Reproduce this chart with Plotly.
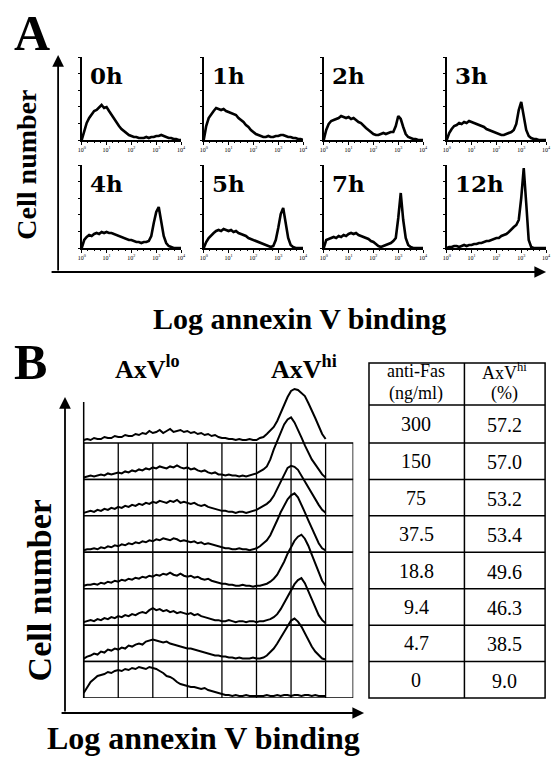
import plotly.graph_objects as go

W, H = 556, 758
FONT = "Liberation Serif"

# ---------------- Panel A data (log annexin V, decades; cell counts) ----------------
A_LABELS = ["0h", "1h", "2h", "3h", "4h", "5h", "7h", "12h"]
A_TICKS = [0, 1, 2, 3, 4]
A_TICKTEXT = ["10<sup>0</sup>", "10<sup>1</sup>", "10<sup>2</sup>", "10<sup>3</sup>", "10<sup>4</sup>"]
A_BINS = [0.0, 0.1, 0.2, 0.3, 0.4, 0.5, 0.6, 0.7, 0.8, 0.9,
          1.0, 1.1, 1.2, 1.3, 1.4, 1.5, 1.6, 1.7, 1.8, 1.9,
          2.0, 2.1, 2.2, 2.3, 2.4, 2.5, 2.6, 2.7, 2.8, 2.9,
          3.0, 3.1, 3.2, 3.3, 3.4, 3.5, 3.6, 3.7, 3.8, 3.9,
          4.0]
A_0H = [0, 10, 17, 22, 25, 29, 30, 33, 35, 32, 33, 29, 25, 22, 17, 14, 11, 9, 7, 5,
        4, 3, 3, 2, 2, 2, 3, 2, 3, 3, 4, 4, 5, 4, 3, 2, 2, 1, 1, 0, 0]
A_1H = [0, 14, 22, 26, 29, 32, 31, 30, 31, 29, 28, 27, 26, 25, 22, 20, 18, 15, 13, 10,
        8, 6, 5, 4, 3, 3, 4, 3, 3, 4, 4, 5, 5, 4, 3, 3, 2, 2, 1, 1, 0]
A_2H = [0, 10, 16, 19, 20, 21, 22, 24, 23, 22, 23, 21, 22, 20, 18, 17, 14, 12, 10, 8,
        6, 5, 5, 6, 7, 6, 7, 8, 8, 14, 24, 21, 13, 6, 3, 2, 1, 1, 0, 0, 0]
A_3H = [0, 7, 11, 14, 15, 17, 16, 18, 17, 19, 18, 17, 16, 15, 14, 13, 11, 10, 9, 8,
        7, 6, 5, 5, 6, 7, 8, 10, 16, 30, 38, 24, 10, 4, 2, 1, 1, 0, 0, 0, 0]
A_4H = [0, 8, 11, 13, 12, 14, 15, 14, 16, 15, 16, 15, 15, 14, 13, 12, 11, 10, 9, 8,
        8, 7, 6, 6, 5, 6, 6, 7, 12, 25, 36, 41, 26, 12, 5, 2, 1, 0, 0, 0, 0]
A_5H = [0, 6, 10, 13, 15, 17, 18, 17, 19, 18, 17, 18, 16, 17, 15, 14, 13, 12, 10, 9,
        8, 7, 6, 5, 4, 3, 2, 1, 2, 8, 20, 34, 40, 24, 10, 3, 1, 0, 0, 0, 0]
A_7H = [0, 8, 9, 10, 11, 10, 12, 11, 13, 12, 14, 15, 14, 15, 13, 12, 11, 10, 9, 7,
        6, 4, 2, 1, 2, 3, 4, 5, 7, 10, 30, 55, 28, 10, 3, 1, 0, 0, 0, 0, 0]
A_12H = [0, 1, 1, 2, 2, 1, 2, 3, 2, 3, 3, 4, 4, 5, 5, 6, 7, 7, 8, 9,
         10, 10, 12, 13, 14, 16, 19, 21, 23, 28, 50, 80, 45, 8, 1, 0, 0, 0, 0, 0, 0]
A_CURVES = [A_0H, A_1H, A_2H, A_3H, A_4H, A_5H, A_7H, A_12H]

# ---------------- Panel B data ----------------
B_CONC = ["300", "150", "75", "37.5", "18.8", "9.4", "4.7", "0"]
B_AXV_HI = ["57.2", "57.0", "53.2", "53.4", "49.6", "46.3", "38.5", "9.0"]
B_HEAD_CONC = ["anti-Fas", "(ng/ml)"]
B_HEAD_AXV = ["AxV<sup>hi</sup>", "(%)"]
B_BINS = [0.00, 0.05, 0.10, 0.15, 0.20, 0.25, 0.30, 0.35, 0.40, 0.45, 0.50,
          0.55, 0.60, 0.65, 0.70, 0.75, 0.80, 0.85, 0.90, 0.95, 1.00,
          1.05, 1.10, 1.15, 1.20, 1.25, 1.30, 1.35, 1.40, 1.45, 1.50,
          1.55, 1.60, 1.65, 1.70, 1.75, 1.80, 1.85, 1.90, 1.95, 2.00,
          2.05, 2.10, 2.15, 2.20, 2.25, 2.30, 2.35, 2.40, 2.45, 2.50,
          2.55, 2.60, 2.65, 2.70, 2.75, 2.80, 2.85, 2.90, 2.95, 3.00,
          3.05, 3.10, 3.15, 3.20, 3.25, 3.30, 3.35, 3.40, 3.45, 3.50]
B_300 = [3, 4, 3, 5, 4, 4, 6, 5, 5, 7, 6,
         6, 8, 7, 7, 9, 8, 10, 9, 12, 10,
         11, 13, 10, 12, 14, 11, 12, 13, 11, 12,
         10, 11, 9, 10, 8, 9, 7, 8, 6, 5,
         5, 4, 4, 3, 4, 3, 3, 4, 3, 3,
         5, 6, 9, 12, 16, 22, 30, 38, 46, 52,
         54, 53, 50, 47, 40, 33, 25, 17, 9, 4]
B_150 = [2, 3, 4, 3, 4, 5, 4, 6, 5, 6, 7,
         6, 8, 7, 9, 8, 10, 9, 11, 10, 12,
         11, 13, 12, 11, 13, 12, 14, 12, 11, 12,
         10, 11, 9, 8, 9, 7, 6, 7, 5, 5,
         4, 5, 4, 4, 3, 4, 3, 4, 5, 6,
         8, 10, 13, 20, 30, 38, 47, 55, 60, 62,
         57, 50, 42, 34, 27, 20, 15, 10, 5, 2]
B_75 = [3, 4, 5, 4, 6, 5, 7, 6, 8, 7, 9,
        8, 10, 9, 11, 10, 12, 11, 13, 12, 14,
        13, 15, 14, 13, 15, 14, 16, 13, 14, 13,
        12, 13, 11, 10, 11, 9, 8, 7, 6, 5,
        5, 4, 4, 3, 4, 4, 3, 4, 5, 6,
        8, 10, 12, 15, 20, 27, 34, 42, 48, 50,
        49, 46, 40, 34, 28, 22, 16, 11, 6, 3]
B_37_5 = [2, 3, 3, 4, 3, 5, 4, 6, 5, 7, 6,
          8, 7, 9, 8, 10, 9, 11, 10, 12, 11,
          13, 12, 14, 13, 12, 14, 13, 11, 12, 11,
          10, 11, 9, 10, 8, 9, 8, 7, 6, 5,
          4, 4, 3, 3, 4, 3, 3, 2, 3, 4,
          6, 9, 12, 17, 24, 32, 40, 47, 53, 57,
          59, 55, 48, 40, 32, 24, 16, 9, 4, 2]
B_18_8 = [3, 4, 4, 5, 4, 6, 5, 7, 6, 8, 7,
          9, 8, 10, 9, 11, 10, 12, 11, 13, 12,
          14, 13, 15, 14, 16, 14, 13, 15, 13, 12,
          13, 11, 12, 10, 9, 10, 8, 7, 6, 5,
          5, 4, 4, 3, 3, 4, 3, 3, 2, 3,
          3, 4, 5, 7, 10, 14, 20, 27, 35, 42,
          48, 52, 54, 50, 43, 34, 25, 16, 8, 3]
B_9_4 = [3, 4, 5, 4, 6, 5, 7, 6, 8, 7, 9,
         8, 10, 9, 11, 10, 12, 13, 12, 15, 17,
         15, 16, 14, 15, 13, 14, 12, 13, 12, 11,
         12, 10, 11, 9, 8, 7, 6, 5, 5, 4,
         4, 5, 4, 3, 4, 4, 3, 4, 4, 3,
         4, 4, 5, 6, 8, 11, 16, 22, 28, 35,
         41, 45, 47, 42, 34, 26, 18, 10, 5, 2]
B_4_7 = [3, 5, 6, 8, 7, 10, 9, 12, 11, 13, 12,
         14, 13, 16, 15, 17, 18, 17, 20, 21, 22,
         21, 20, 19, 20, 18, 17, 16, 15, 14, 13,
         13, 12, 11, 10, 9, 8, 7, 6, 6, 5,
         5, 4, 4, 3, 4, 3, 3, 3, 4, 3,
         3, 4, 6, 9, 13, 18, 24, 30, 36, 41,
         43, 40, 35, 28, 21, 15, 10, 6, 3, 2]
B_0 = [5, 11, 16, 19, 22, 23, 24, 26, 25, 27, 28,
       27, 29, 28, 30, 29, 31, 30, 29, 31, 30,
       29, 27, 25, 22, 21, 19, 16, 14, 13, 12,
       11, 11, 10, 9, 10, 8, 7, 6, 5, 4,
       3, 3, 2, 3, 2, 2, 3, 2, 2, 2,
       2, 2, 3, 2, 2, 3, 2, 3, 3, 2,
       3, 3, 2, 3, 3, 2, 3, 2, 2, 2]
B_CURVES = [B_300, B_150, B_75, B_37_5, B_18_8, B_9_4, B_4_7, B_0]

for c in A_CURVES:
    assert len(c) == len(A_BINS)
for c in B_CURVES:
    assert len(c) == len(B_BINS)


def px(x):
    return x / W


def py(y):
    return 1 - y / H


fig = go.Figure()
layout = {}
shapes = []
annotations = []

# ---------------- Panel A: 8 small histograms ----------------
A_COLS = [79, 203, 325, 450]
A_BASE = [140, 248]
A_PW, A_PH = 101, 83

for i, (label, counts) in enumerate(zip(A_LABELS, A_CURVES)):
    n = i + 1
    sfx = "" if n == 1 else str(n)
    col, row = i % 4, i // 4
    x0, base = A_COLS[col], A_BASE[row]
    fig.add_trace(go.Scatter(x=A_BINS, y=counts, mode="lines",
                             line=dict(color="black", width=2.6),
                             xaxis="x" + sfx, yaxis="y" + sfx,
                             showlegend=False, hoverinfo="skip"))
    layout["xaxis" + sfx] = dict(
        domain=[px(x0), px(x0 + A_PW)], range=[0, 4], anchor="y" + sfx,
        showline=True, linecolor="black", linewidth=1.6, mirror=False,
        ticks="outside", ticklen=3, tickcolor="black", tickwidth=1.2,
        tickvals=A_TICKS, ticktext=A_TICKTEXT,
        tickfont=dict(family=FONT, size=6, color="black"),
        minor=dict(ticks="outside", ticklen=1.5, dtick=0.25, tickcolor="black"),
        showgrid=False, zeroline=False, fixedrange=True)
    layout["yaxis" + sfx] = dict(
        domain=[py(base), py(base - A_PH)], range=[0, A_PH], anchor="x" + sfx,
        showline=True, linecolor="black", linewidth=1.6,
        ticks="outside", ticklen=2, tickcolor="black", tickwidth=1,
        tick0=0, dtick=16.6, showticklabels=False,
        showgrid=False, zeroline=False, fixedrange=True)
    annotations.append(dict(x=px(x0 + 6), y=py(base - A_PH + 19), xref="paper", yref="paper",
                            text="<b>" + label + "</b>", showarrow=False,
                            xanchor="left", yanchor="middle",
                            font=dict(family="DejaVu Serif", size=23, color="black")))

# ---------------- Panel B: stacked histograms ----------------
B_X0, B_X1 = 81, 355
B_TOP = 443
ROW_H = (698 - 443) / 7
B_DOM_H = 66
B_XMAX = 3.9
GRID_X = [0.5, 1.0, 1.5, 2.0, 2.5, 3.0, 3.5]

for j, counts in enumerate(B_CURVES):
    n = 9 + j
    sfx = str(n)
    base = B_TOP + j * ROW_H
    layout["xaxis" + sfx] = dict(domain=[px(B_X0), px(B_X1)], range=[0, B_XMAX],
                                 anchor="y" + sfx, visible=False, fixedrange=True)
    layout["yaxis" + sfx] = dict(domain=[py(base), py(base - B_DOM_H)], range=[0, B_DOM_H],
                                 anchor="x" + sfx, visible=False, fixedrange=True)
    if j > 0:
        shapes.append(dict(type="rect", xref="x" + sfx, yref="y" + sfx,
                           x0=0, x1=B_XMAX, y0=0, y1=ROW_H, layer="below",
                           line=dict(color="black", width=1.5)))
        for gx in GRID_X:
            shapes.append(dict(type="line", xref="x" + sfx, yref="y" + sfx,
                               x0=gx, x1=gx, y0=0, y1=ROW_H, layer="below",
                               line=dict(color="black", width=1.3)))
    fig.add_trace(go.Scatter(x=B_BINS, y=counts, mode="lines",
                             line=dict(color="black", width=2.0),
                             xaxis="x" + sfx, yaxis="y" + sfx,
                             showlegend=False, hoverinfo="skip"))

# left vertical line of the stack
shapes.append(dict(type="line", xref="paper", yref="paper",
                   x0=px(B_X0), x1=px(B_X0), y0=py(402), y1=py(698),
                   line=dict(color="black", width=1.5)))

# ---------------- Table (grid + text) ----------------
T_X0, T_XM, T_X1 = 371, 468, 550
T_Y0, T_HEAD = 363, 405
row_lines = [T_HEAD] + [B_TOP + k * ROW_H for k in range(8)]
shapes.append(dict(type="rect", xref="paper", yref="paper",
                   x0=px(T_X0), x1=px(T_X1), y0=py(row_lines[-1]), y1=py(T_Y0),
                   line=dict(color="black", width=1.5)))
shapes.append(dict(type="line", xref="paper", yref="paper",
                   x0=px(T_XM), x1=px(T_XM), y0=py(row_lines[-1]), y1=py(T_Y0),
                   line=dict(color="black", width=1.5)))
for yl in row_lines[:-1]:
    shapes.append(dict(type="line", xref="paper", yref="paper",
                       x0=px(T_X0), x1=px(T_X1), y0=py(yl), y1=py(yl),
                       line=dict(color="black", width=1.5)))


def text(x, y, s, size, angle=0, anchor="center", family=FONT):
    annotations.append(dict(x=px(x), y=py(y), xref="paper", yref="paper", text=s,
                            showarrow=False, xanchor=anchor, yanchor="middle",
                            textangle=angle,
                            font=dict(family=family, size=size, color="black")))


C1, C2 = 419, 509
text(C1, 371, B_HEAD_CONC[0], 18)
text(C1, 393, B_HEAD_CONC[1], 18)
text(C2, 371, B_HEAD_AXV[0], 18)
text(C2, 393, B_HEAD_AXV[1], 18)
for k, (conc, pct) in enumerate(zip(B_CONC, B_AXV_HI)):
    yc = (row_lines[k] + row_lines[k + 1]) / 2
    text(C1, yc, conc, 20)
    text(C2, yc + 1, pct, 20)

# ---------------- Axis arrows ----------------
def arrow(hx, hy, tx, ty):
    annotations.append(dict(x=px(hx), y=py(hy), xref="paper", yref="paper",
                            ax=tx - hx, ay=ty - hy, axref="pixel", ayref="pixel",
                            text="", showarrow=True, arrowhead=2, arrowsize=1.3,
                            arrowwidth=1.8, arrowcolor="black", standoff=0))


arrow(55, 55, 55, 272)
arrow(551, 272, 55, 272)
arrow(62, 397, 62, 713)
arrow(366, 713, 62, 713)

# ---------------- Text labels ----------------
text(8, 33, "<b>A</b>", 50, anchor="left")
text(22, 165, "<b>Cell number</b>", 28, angle=-90)
text(300, 318, "<b>Log annexin V binding</b>", 30)
text(8, 362, "<b>B</b>", 50, anchor="left")
text(146, 367, "<b>AxV<sup>lo</sup></b>", 26)
text(305, 367, "<b>AxV<sup>hi</sup></b>", 26)
text(36, 590, "<b>Cell number</b>", 34, angle=-90)
text(203, 738, "<b>Log annexin V binding</b>", 32)

fig.update_layout(width=W, height=H, margin=dict(l=0, r=0, t=0, b=0),
                  paper_bgcolor="white", plot_bgcolor="rgba(0,0,0,0)",
                  showlegend=False, shapes=shapes, annotations=annotations,
                  **layout)

fig.write_html("out.html", config={"displayModeBar": False},
               post_script="document.body.style.margin='0';document.body.style.padding='0';")
